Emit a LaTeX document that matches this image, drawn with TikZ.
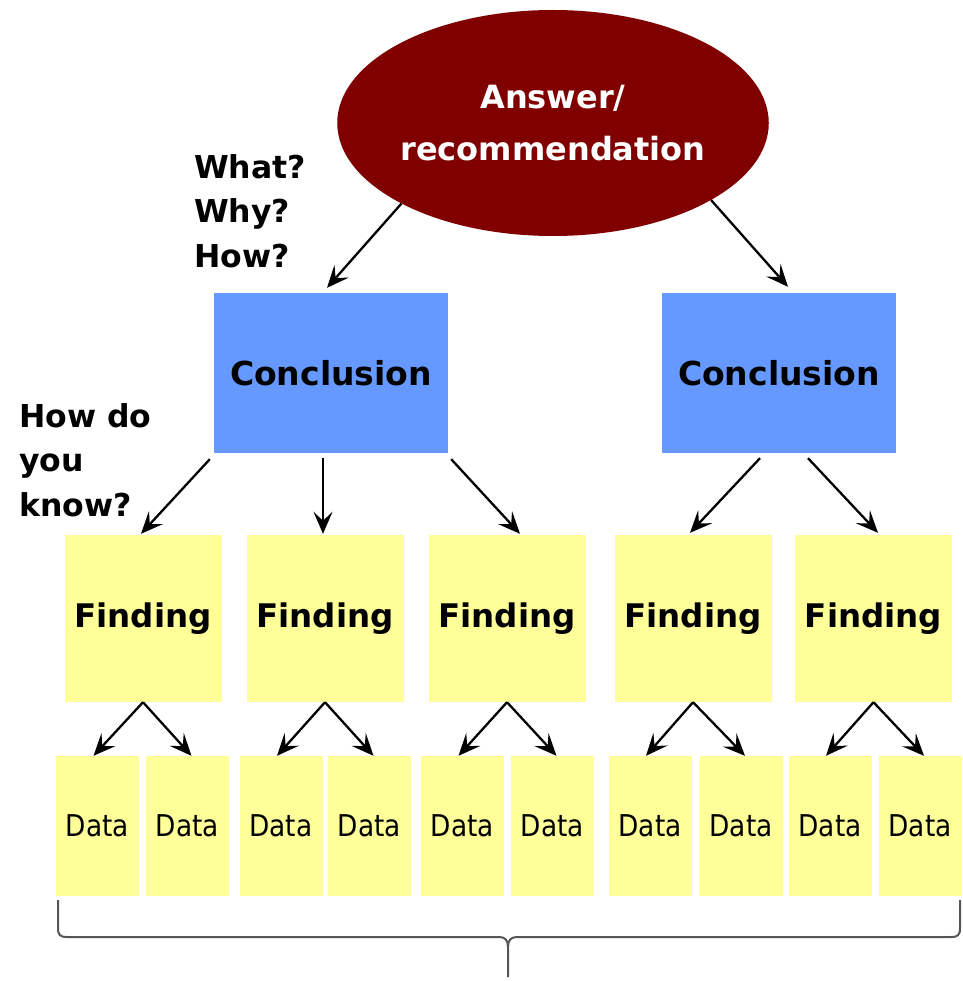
\documentclass[tikz,border=0pt]{standalone}
\usepackage{fontspec}
\setmainfont{DejaVu Sans}
\newfontfamily\datafont{DejaVu Sans}[FakeStretch=0.88]
\usetikzlibrary{arrows.meta,shapes.geometric,calc}

\definecolor{answerred}{RGB}{128,0,0}
\definecolor{conclblue}{RGB}{102,153,255}
\definecolor{noteyellow}{RGB}{255,255,153}
\definecolor{bracegray}{RGB}{85,85,85}

\tikzset{
  answer/.style={ellipse, fill=answerred, text=white, align=center,
    minimum width=420pt, minimum height=226pt, inner sep=0pt,
    font=\fontsize{32}{52}\selectfont\bfseries},
  conclbox/.style={rectangle, fill=conclblue, minimum width=234pt,
    minimum height=160pt, inner sep=0pt,
    font=\fontsize{33}{40}\selectfont\bfseries},
  findbox/.style={rectangle, fill=noteyellow, minimum width=157pt,
    minimum height=167pt, inner sep=0pt,
    font=\fontsize{32.5}{40}\selectfont\bfseries},
  databox/.style={rectangle, fill=noteyellow, minimum width=83pt,
    minimum height=140pt, inner sep=0pt,
    font=\fontsize{30}{36}\datafont},
  question/.style={align=left, anchor=north west, inner sep=0pt,
    font=\fontsize{31.5}{44.5}\selectfont\bfseries},
  arr/.style={draw=black, line width=2.3pt,
    -{Stealth[length=22pt,width=19pt,inset=9pt]}},
  bracket/.style={draw=bracegray, line width=2pt}
}

\begin{document}
\begin{tikzpicture}[x=1pt,y=-1pt]
\useasboundingbox (0,0) rectangle (962,981);

% top answer
\node[answer] (ans) at (553,123) {Answer/\\recommendation};

% conclusions
\node[conclbox] (c1) at (331,373) {Conclusion};
\node[conclbox] (c2) at (779,373) {Conclusion};

% findings
\node[findbox] (f1) at (143,618.5) {Finding};
\node[findbox] (f2) at (325,618.5) {Finding};
\node[findbox] (f3) at (507,618.5) {Finding};
\node[findbox] (f4) at (693,618.5) {Finding};
\node[findbox] (f5) at (873.5,618.5) {Finding};

% data
\node[databox] (d1)  at (97.5,826)  {Data};
\node[databox] (d2)  at (187.5,826) {Data};
\node[databox] (d3)  at (281,826)   {Data};
\node[databox] (d4)  at (369.5,826) {Data};
\node[databox] (d5)  at (462.5,826) {Data};
\node[databox] (d6)  at (552.5,826) {Data};
\node[databox] (d7)  at (650,826)   {Data};
\node[databox] (d8)  at (741,826)   {Data};
\node[databox] (d9)  at (830,826)   {Data};
\node[databox] (d10) at (920,826)   {Data};

% side questions
\node[question] (q1) at (194,154) {What?\\Why?\\How?};
\node[question] (q2) at (19,403) {How do\\you\\know?};

% answer -> conclusions
\draw[arr] (ans.208.4) -- ([xshift=-4pt,yshift=5pt]c1.north);
\draw[arr] (ans.-26.1) -- ([xshift=9pt,yshift=6pt]c2.north);

% conclusions -> findings
\draw[arr] ([xshift=-4pt,yshift=-6pt]c1.south west) -- ([xshift=-2pt,yshift=1pt]f1.north);
\draw[arr] ([xshift=-8pt,yshift=-5pt]c1.south) -- ([xshift=-2pt,yshift=1pt]f2.north);
\draw[arr] ([xshift=3pt,yshift=-6pt]c1.south east) -- ([xshift=13pt,yshift=1pt]f3.north);
\draw[arr] ([xshift=-19pt,yshift=-5pt]c2.south) -- ([xshift=-3pt,yshift=2pt]f4.north);
\draw[arr] ([xshift=29pt,yshift=-5pt]c2.south) -- ([xshift=4.5pt,yshift=2pt]f5.north);

% findings -> data
\foreach \f/\a/\b in {f1/d1/d2, f2/d3/d4, f3/d5/d6, f4/d7/d8, f5/d9/d10} {
  \draw[arr] (\f.south) -- ([xshift=-4pt]\a.north);
  \draw[arr] (\f.south) -- ([xshift=4pt]\b.north);
}

% bracket under the data row
\coordinate (bl) at (58,900);
\coordinate (br) at (960,900);
\coordinate (bm) at (508,977);
\draw[bracket] (bl) -- (58,928) .. controls (58,935) and (60,937) .. (67,937)
  -- (499,937) .. controls (505,937) and (508,940) .. (508,947) -- (bm);
\draw[bracket] (508,947) .. controls (508,940) and (511,937) .. (517,937)
  -- (951,937) .. controls (958,937) and (960,935) .. (960,928) -- (br);
\end{tikzpicture}
\end{document}
